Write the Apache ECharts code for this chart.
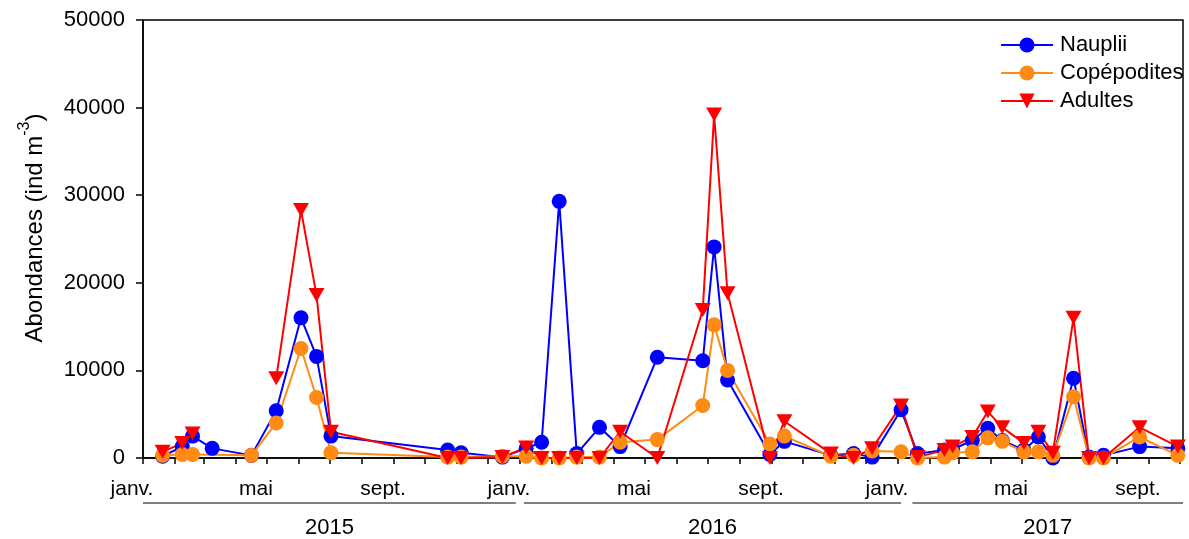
<!DOCTYPE html>
<html>
<head>
<meta charset="utf-8">
<script src="https://cdn.jsdelivr.net/npm/echarts@6/dist/echarts.min.js"></script>
<style>
html,body{margin:0;padding:0;background:#fff;}
#main{width:1189px;height:539px;}
</style>
</head>
<body>
<div id="main"></div>
<script>
// ---- data ----
const dates = ['2015-01-20','2015-02-08','2015-02-18','2015-03-09','2015-04-16','2015-05-10','2015-06-03','2015-06-18','2015-07-02','2015-10-23','2015-11-05','2015-12-15',
  '2016-01-07','2016-01-22','2016-02-08','2016-02-25','2016-03-18','2016-04-07','2016-05-13','2016-06-26','2016-07-07','2016-07-20','2016-08-30','2016-09-13','2016-10-28','2016-11-19','2016-12-07',
  '2017-01-04','2017-01-20','2017-02-15','2017-02-23','2017-03-14','2017-03-29','2017-04-12','2017-05-03','2017-05-17','2017-05-31','2017-06-20','2017-07-05','2017-07-19','2017-08-23','2017-09-29'];
const nauplii = [200,1300,2500,1100,300,5400,16000,11600,2500,900,600,100,
  1100,1800,29300,500,3500,1300,11500,11100,24100,8900,400,1900,300,500,100,
  5500,500,900,1000,2000,3400,2000,900,2400,0,9100,100,300,1300,1100];
const copepodites = [300,400,400,null,300,4000,12500,6900,600,100,100,200,
  200,0,0,100,100,1800,2100,6000,15200,10000,1600,2500,200,300,800,
  700,0,100,600,700,2300,1900,700,700,300,7000,0,0,2400,300];
const adultes = [700,1700,2800,null,null,9100,28300,18600,3000,0,0,100,
  1200,0,0,0,0,3000,0,16900,39200,18800,0,4200,500,0,1100,
  6000,100,900,1300,2400,5300,3500,1700,3000,600,16000,0,0,3500,1300];
const seriesNames = ['Nauplii','Copépodites','Adultes'];
const monthLabelNames = {0:'janv.',4:'mai',8:'sept.'};
const years = ['2015','2016','2017'];
const axisStart = '2015-01-01', axisEnd = '2017-10-04';
const yearSpans = [['2015-01-01','2015-12-28'],['2016-01-05','2017-01-04'],['2017-01-15','2017-10-04']];

// ---- helpers ----
const ts = s => { const p = s.split('-').map(Number); return Date.UTC(p[0], p[1]-1, p[2]); };
const minT = ts(axisStart), maxT = ts(axisEnd);
const monthTicks = [], labelTicks = [];
for (let y = 2015; y <= 2017; y++) for (let m = 0; m < 12; m++) {
  const t = Date.UTC(y, m, 1);
  if (t >= minT && t <= maxT) { monthTicks.push(t); if (monthLabelNames[m] !== undefined) labelTicks.push(t); }
}
const pair = arr => dates.map((d, i) => [ts(d), arr[i]]);
const FONT = "'Liberation Sans', Arial, sans-serif";

const chart = echarts.init(document.getElementById('main'));
chart.setOption({
  animation: false,
  backgroundColor: '#fff',
  grid: { left: 143, right: 6, top: 20, bottom: 81, show: true, borderColor: '#000', borderWidth: 1.5, containLabel: false },
  legend: {
    orient: 'vertical', left: 995, top: 29, itemWidth: 52, itemHeight: 19, itemGap: 6,
    textStyle: { fontFamily: FONT, fontSize: 22, color: '#000', padding: [0,0,0,2] },
    data: seriesNames
  },
  xAxis: {
    type: 'value', min: minT, max: maxT, scale: true,
    axisLine: { show: true, onZero: false, lineStyle: { color: '#000', width: 1.5 } },
    axisTick: { show: true, customValues: monthTicks, length: 6, lineStyle: { color: '#000', width: 1.5 } },
    axisLabel: {
      customValues: labelTicks, fontFamily: FONT, fontSize: 21, color: '#000', margin: 21,
      padding: [0, 22, 0, 0], showMinLabel: true, showMaxLabel: true,
      formatter: v => monthLabelNames[new Date(v).getUTCMonth()] || ''
    },
    splitLine: { show: false }
  },
  yAxis: {
    type: 'value', min: 0, max: 50000, interval: 10000,
    name: '{a|Abondances (ind m}{s|-3}{a|)}', nameLocation: 'middle', nameGap: 96,
    nameTextStyle: {
      padding: [0, 0, 0, 22],
      rich: {
        a: { fontFamily: FONT, fontSize: 24, color: '#000', lineHeight: 30, verticalAlign: 'bottom' },
        s: { fontFamily: FONT, fontSize: 16, color: '#000', lineHeight: 30, verticalAlign: 'top' }
      }
    },
    axisLine: { show: true, lineStyle: { color: '#000', width: 1.5 } },
    axisTick: { show: true, length: 7, lineStyle: { color: '#000', width: 1.5 } },
    axisLabel: { fontFamily: FONT, fontSize: 22, color: '#000', margin: 18, formatter: v => String(v) },
    splitLine: { show: false }
  },
  series: [
    { name: seriesNames[0], type: 'line', data: pair(nauplii), connectNulls: true,
      symbol: 'circle', symbolSize: 15, itemStyle: { color: '#0000ff' }, lineStyle: { color: '#0000ff', width: 2 } },
    { name: seriesNames[1], type: 'line', data: pair(copepodites), connectNulls: true,
      symbol: 'circle', symbolSize: 15, itemStyle: { color: '#ff8a14' }, lineStyle: { color: '#ff8a14', width: 2 } },
    { name: seriesNames[2], type: 'line', data: pair(adultes), connectNulls: false,
      symbol: 'triangle', symbolRotate: 180, symbolSize: [16, 14], itemStyle: { color: '#ff0000' }, lineStyle: { color: '#ff0000', width: 2 } }
  ]
});

// year underline segments and labels, positioned through the axis scale
const gy = chart.convertToPixel({ yAxisIndex: 0 }, 0);
const graphics = [];
yearSpans.forEach((sp, i) => {
  const x1 = chart.convertToPixel({ xAxisIndex: 0 }, ts(sp[0]));
  const x2 = chart.convertToPixel({ xAxisIndex: 0 }, ts(sp[1]));
  graphics.push({ type: 'line', shape: { x1: x1, y1: gy + 45, x2: x2, y2: gy + 45 }, style: { stroke: '#555', lineWidth: 1.5 } });
  graphics.push({ type: 'text', x: (x1 + x2) / 2, y: gy + 70, style: { text: years[i], fontFamily: FONT, fontSize: 22, fill: '#000', align: 'center', verticalAlign: 'middle' } });
});
chart.setOption({ graphic: graphics });
</script>
</body>
</html>
